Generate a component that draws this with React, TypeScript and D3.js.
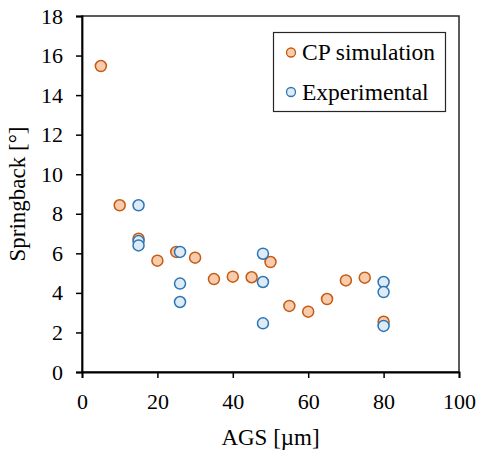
import { useEffect, useRef } from 'react';
import * as d3 from 'd3';

const cpAgs = [5, 10, 15, 20, 25, 30, 35, 40, 45, 50, 55, 60, 65, 70, 75, 80];
const cpSpringback = [15.47, 8.43, 6.74, 5.63, 6.07, 5.78, 4.7, 4.82, 4.79, 5.56, 3.34, 3.05, 3.69, 4.63, 4.77, 2.54];

const expAgs = [15, 15, 15, 26, 26, 26, 48, 48, 48, 80, 80, 80];
const expSpringback = [8.43, 6.62, 6.4, 6.07, 4.47, 3.54, 5.98, 4.55, 2.46, 4.55, 4.04, 2.33];

const xTicks = [0, 20, 40, 60, 80, 100];
const yTicks = [0, 2, 4, 6, 8, 10, 12, 14, 16, 18];

const seriesNames = ['CP simulation', 'Experimental'];

const Chart = () => {
  const ref = useRef<SVGSVGElement | null>(null);

  useEffect(() => {
    if (!ref.current) return;
    const svg = d3.select(ref.current);
    svg.selectAll('*').remove();
    const width = 480;
    const height = 452;
    const margin = { top: 16, right: 21, bottom: 80, left: 82 };
    const font = '"Liberation Serif", "Times New Roman", serif';

    const x = d3.scaleLinear().domain([0, 100]).range([margin.left, width - margin.right]);
    const y = d3.scaleLinear().domain([0, 18]).range([height - margin.bottom, margin.top]);

    // frame
    svg
      .append('rect')
      .attr('x', margin.left)
      .attr('y', margin.top)
      .attr('width', width - margin.left - margin.right)
      .attr('height', height - margin.top - margin.bottom)
      .attr('fill', 'none')
      .attr('stroke', '#262626')
      .attr('stroke-width', 1.5);

    const xAxis = svg
      .append('g')
      .attr('transform', `translate(0,${y(0)})`)
      .call(d3.axisBottom(x).tickValues(xTicks).tickSize(6).tickPadding(15).tickFormat(d3.format('d')));
    xAxis.select('.domain').attr('stroke', '#000').attr('stroke-width', 1.8);
    xAxis.selectAll('line').attr('stroke', '#000').attr('stroke-width', 1.5);
    xAxis.selectAll('text').attr('font-family', font).attr('font-size', 22).attr('fill', '#000');

    const yAxis = svg
      .append('g')
      .attr('transform', `translate(${x(0)},0)`)
      .call(d3.axisLeft(y).tickValues(yTicks).tickSize(6).tickPadding(13).tickFormat(d3.format('d')));
    yAxis.select('.domain').attr('stroke', '#000').attr('stroke-width', 1.8);
    yAxis.selectAll('line').attr('stroke', '#000').attr('stroke-width', 1.5);
    yAxis.selectAll('text').attr('font-family', font).attr('font-size', 22).attr('fill', '#000');

    svg
      .append('text')
      .attr('x', (x(0) + x(100)) / 2)
      .attr('y', 445)
      .attr('text-anchor', 'middle')
      .attr('font-family', font)
      .attr('font-size', 23)
      .text('AGS [µm]');

    svg
      .append('text')
      .attr('transform', `translate(25,${(y(0) + y(18)) / 2}) rotate(-90)`)
      .attr('text-anchor', 'middle')
      .attr('font-family', font)
      .attr('font-size', 23)
      .text('Springback [°]');

    const cp = cpAgs.map((a, i) => ({ a, s: cpSpringback[i] }));
    const exp = expAgs.map((a, i) => ({ a, s: expSpringback[i] }));

    svg
      .append('g')
      .selectAll('circle')
      .data(cp)
      .join('circle')
      .attr('cx', (d) => x(d.a))
      .attr('cy', (d) => y(d.s))
      .attr('r', 5.5)
      .attr('fill', '#F8CBAD')
      .attr('stroke', '#C55A11')
      .attr('stroke-width', 1.5);

    svg
      .append('g')
      .selectAll('circle')
      .data(exp)
      .join('circle')
      .attr('cx', (d) => x(d.a))
      .attr('cy', (d) => y(d.s))
      .attr('r', 5.5)
      .attr('fill', '#DEEBF7')
      .attr('stroke', '#2E75B6')
      .attr('stroke-width', 1.5);

    // legend
    const legend = svg.append('g');
    legend
      .append('rect')
      .attr('x', 273.5)
      .attr('y', 32.5)
      .attr('width', 172)
      .attr('height', 79)
      .attr('fill', '#fff')
      .attr('stroke', '#262626')
      .attr('stroke-width', 1.2);
    const colors = [
      { fill: '#F8CBAD', stroke: '#C55A11' },
      { fill: '#DEEBF7', stroke: '#2E75B6' },
    ];
    seriesNames.forEach((name, i) => {
      const cy = 52.5 + i * 39.5;
      legend
        .append('circle')
        .attr('cx', 291)
        .attr('cy', cy)
        .attr('r', 4.5)
        .attr('fill', colors[i].fill)
        .attr('stroke', colors[i].stroke)
        .attr('stroke-width', 1.3);
      legend
        .append('text')
        .attr('x', 302)
        .attr('y', cy + 7.5)
        .attr('font-family', font)
        .attr('font-size', 23.5)
        .text(name);
    });
  }, []);

  return <svg ref={ref} width={480} height={452} style={{ position: 'absolute', left: 0, top: 0 }} />;
};

export default function App() {
  return <Chart />;
}
